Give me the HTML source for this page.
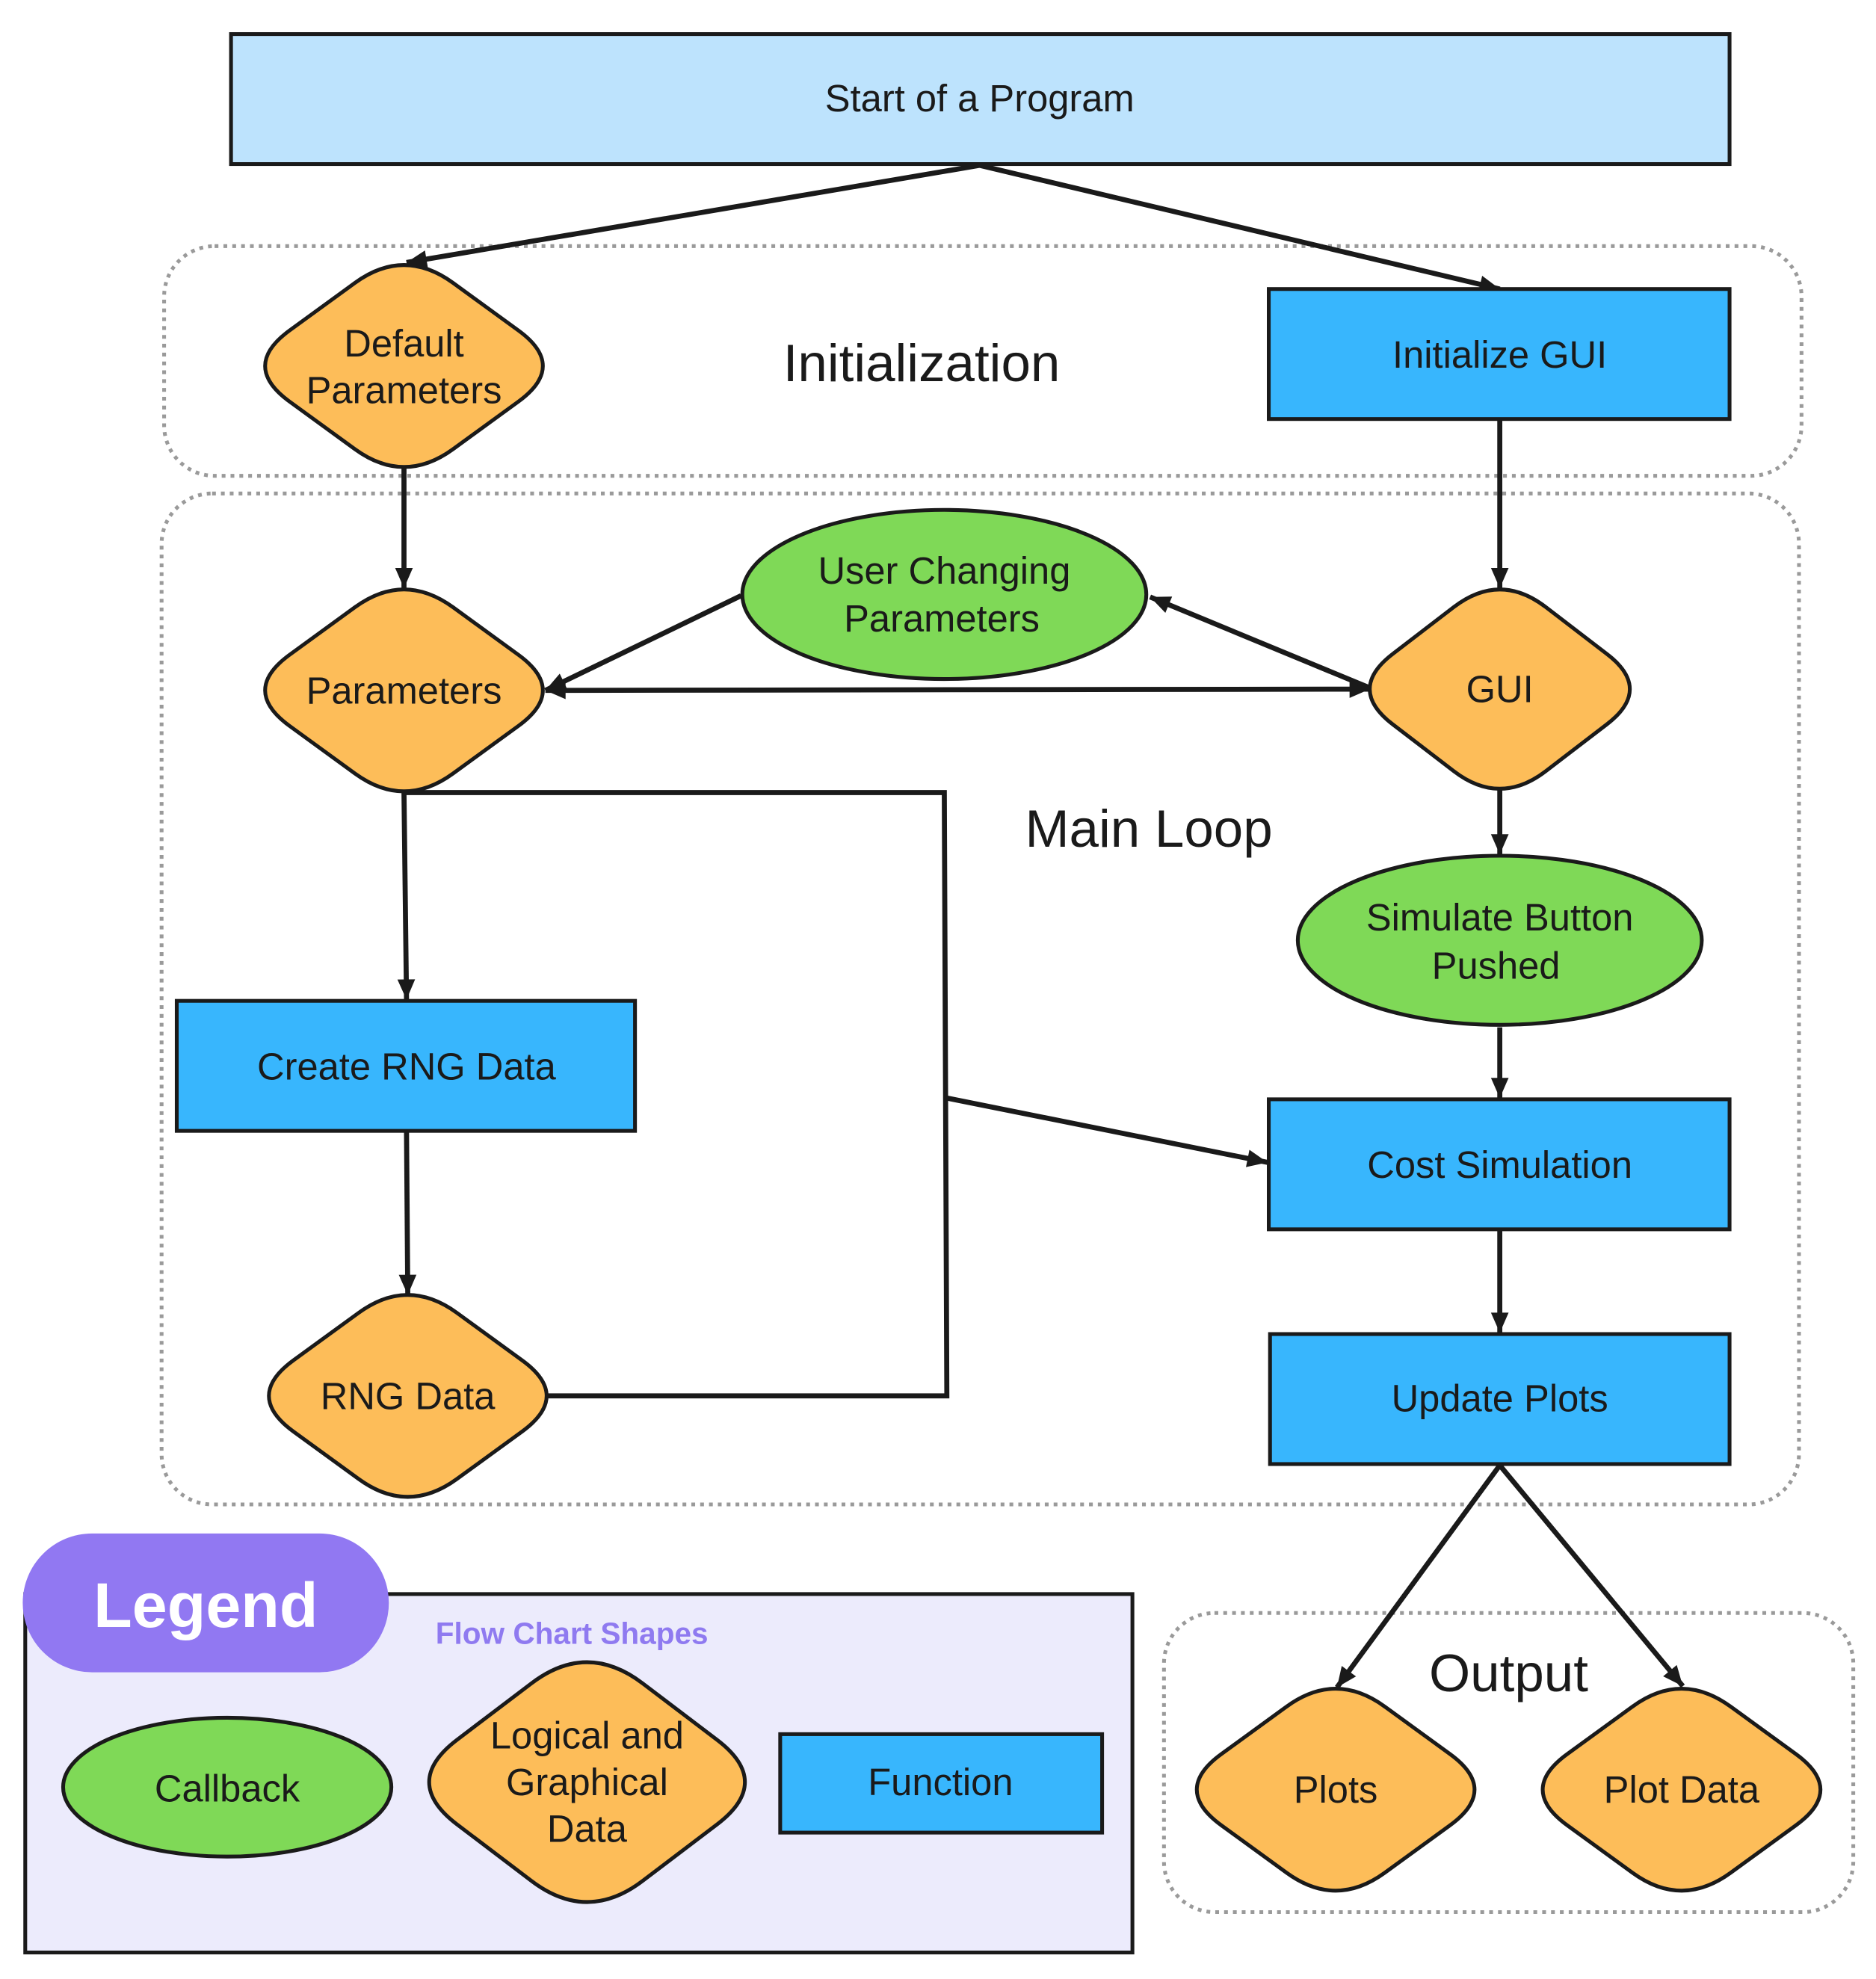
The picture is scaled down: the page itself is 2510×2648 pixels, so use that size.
<!DOCTYPE html>
<html><head><meta charset="utf-8">
<style>
html,body{margin:0;padding:0;background:#fff;}
svg{display:block;}
text{font-family:"Liberation Sans","DejaVu Sans",sans-serif;fill:#1a1a1a;text-anchor:middle;dominant-baseline:central;font-size:30px;}
text.g{font-size:42px;}
.d{fill:#fdbd59;stroke:#1a1a1a;stroke-width:3;}
</style></head>
<body>
<svg width="2510" height="2648" viewBox="0 0 1486 1568" preserveAspectRatio="none" xmlns="http://www.w3.org/2000/svg">
<defs>
<marker id="ar" markerUnits="userSpaceOnUse" markerWidth="20" markerHeight="20" viewBox="0 0 20 20" refX="18" refY="10" orient="auto-start-reverse">
<path d="M2,3 L18,10 L2,17 Z" fill="#1a1a1a"/>
</marker>
<path id="dA" d="M38.8,-65.9 L90.6,-28.2 Q129.4,0 90.6,28.2 L38.8,65.9 Q0,94.1 -38.8,65.9 L-90.6,28.2 Q-129.4,0 -90.6,-28.2 L-38.8,-65.9 Q0,-94.1 38.8,-65.9 Z"/>
</defs>
<rect width="1486" height="1568" fill="#fff"/>

<!-- groups -->
<rect x="130" y="195" width="1297" height="182" rx="40" fill="none" stroke="#9a9a9a" stroke-width="3" stroke-dasharray="3 4"/>
<rect x="128" y="391" width="1297" height="801" rx="40" fill="none" stroke="#9a9a9a" stroke-width="3" stroke-dasharray="3 4"/>
<rect x="922" y="1278" width="546" height="237" rx="40" fill="none" stroke="#9a9a9a" stroke-width="3" stroke-dasharray="3 4"/>

<!-- legend -->
<rect x="20" y="1263" width="877" height="284" fill="#ecebfc" stroke="#1a1a1a" stroke-width="3"/>
<rect x="18" y="1215" width="290" height="110" rx="55" fill="#9178f2"/>
<text x="163" y="1272" style="fill:#fff;font-weight:bold;font-size:50px">Legend</text>
<text x="453" y="1294" style="fill:#8f7af0;font-weight:bold;font-size:24px">Flow Chart Shapes</text>
<ellipse cx="180" cy="1416" rx="130" ry="55" fill="#7fd957" stroke="#1a1a1a" stroke-width="3"/>
<text x="180" y="1417">Callback</text>
<path class="d" transform="translate(465,1412)" d="M44.1,-78.2 L103,-33.5 Q147.1,0 103,33.5 L44.1,78.2 Q0,111.8 -44.1,78.2 L-103,33.5 Q-147.1,0 -103,-33.5 L-44.1,-78.2 Q0,-111.8 44.1,-78.2 Z"/>
<text x="465" y="1375">Logical and</text>
<text x="465" y="1412">Graphical</text>
<text x="465" y="1449">Data</text>
<rect x="618" y="1374" width="255" height="78" fill="#38b6fd" stroke="#1a1a1a" stroke-width="3"/>
<text x="745" y="1412">Function</text>

<!-- connectors -->
<g stroke="#1a1a1a" stroke-width="4" fill="none">
<line x1="776" y1="131" x2="322" y2="208" marker-end="url(#ar)"/>
<line x1="776" y1="131" x2="1188" y2="229" marker-end="url(#ar)"/>
<line x1="320" y1="371" x2="320" y2="466" marker-end="url(#ar)"/>
<line x1="1188" y1="333" x2="1188" y2="466" marker-end="url(#ar)"/>
<line x1="587" y1="472" x2="432" y2="547" marker-end="url(#ar)"/>
<line x1="432" y1="547" x2="1085" y2="546" marker-start="url(#ar)" marker-end="url(#ar)"/>
<line x1="1085" y1="545" x2="911" y2="473" marker-end="url(#ar)"/>
<line x1="1188" y1="626" x2="1188" y2="677" marker-end="url(#ar)"/>
<line x1="1188" y1="814" x2="1188" y2="870" marker-end="url(#ar)"/>
<line x1="1188" y1="975" x2="1188" y2="1056" marker-end="url(#ar)"/>
<line x1="320" y1="628" x2="322" y2="792" marker-end="url(#ar)"/>
<line x1="322" y1="897" x2="323" y2="1026" marker-end="url(#ar)"/>
<polyline points="320,628 748,628 750,1106 434,1106"/>
<line x1="750" y1="870" x2="1004" y2="921" marker-end="url(#ar)"/>
<line x1="1188" y1="1161" x2="1059" y2="1337" marker-end="url(#ar)"/>
<line x1="1188" y1="1161" x2="1333" y2="1336" marker-end="url(#ar)"/>
</g>

<!-- nodes -->
<rect x="183" y="27" width="1187" height="103" fill="#bde3fd" stroke="#1a1a1a" stroke-width="3"/>
<text x="776" y="78">Start of a Program</text>

<use href="#dA" class="d" transform="translate(320,290)"/>
<text x="320" y="272">Default</text>
<text x="320" y="309">Parameters</text>
<text class="g" x="730" y="288">Initialization</text>
<rect x="1005" y="229" width="365" height="103" fill="#38b6fd" stroke="#1a1a1a" stroke-width="3"/>
<text x="1188" y="281">Initialize GUI</text>

<use href="#dA" class="d" transform="translate(320,547)"/>
<text x="320" y="547">Parameters</text>
<ellipse cx="748" cy="471" rx="160" ry="67" fill="#7fd957" stroke="#1a1a1a" stroke-width="3"/>
<text x="748" y="452">User Changing</text>
<text x="746" y="490">Parameters</text>
<path class="d" transform="translate(1188,546)" d="M36.4,-65 L84.8,-27.9 Q121.2,0 84.8,27.9 L36.4,65 Q0,92.9 -36.4,65 L-84.8,27.9 Q-121.2,0 -84.8,-27.9 L-36.4,-65 Q0,-92.9 36.4,-65 Z"/>
<text x="1188" y="546">GUI</text>

<text class="g" x="910" y="657">Main Loop</text>
<ellipse cx="1188" cy="745" rx="160" ry="67" fill="#7fd957" stroke="#1a1a1a" stroke-width="3"/>
<text x="1188" y="727">Simulate Button</text>
<text x="1185" y="765">Pushed</text>

<rect x="140" y="793" width="363" height="103" fill="#38b6fd" stroke="#1a1a1a" stroke-width="3"/>
<text x="322" y="845">Create RNG Data</text>
<rect x="1005" y="871" width="365" height="103" fill="#38b6fd" stroke="#1a1a1a" stroke-width="3"/>
<text x="1188" y="923">Cost Simulation</text>
<rect x="1006" y="1057" width="364" height="103" fill="#38b6fd" stroke="#1a1a1a" stroke-width="3"/>
<text x="1188" y="1108">Update Plots</text>
<use href="#dA" class="d" transform="translate(323,1106)"/>
<text x="323" y="1106">RNG Data</text>

<text class="g" x="1195" y="1326">Output</text>
<use href="#dA" class="d" transform="translate(1058,1418)"/>
<text x="1058" y="1418">Plots</text>
<use href="#dA" class="d" transform="translate(1332,1418)"/>
<text x="1332" y="1418">Plot Data</text>
</svg>
</body></html>
